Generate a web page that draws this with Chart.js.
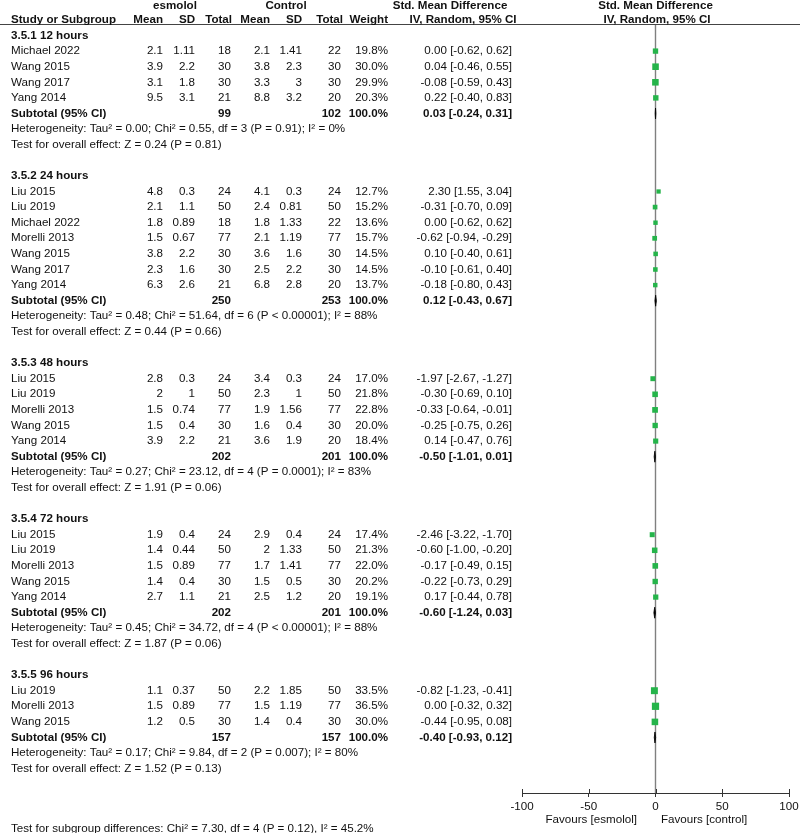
<!DOCTYPE html>
<html>
<head>
<meta charset="utf-8">
<title>Forest plot - esmolol vs control</title>
<script src="https://cdn.jsdelivr.net/npm/chart.js"></script>
<style>
  html, body { margin: 0; padding: 0; background: #fff; }
  canvas { display: block; }
</style>
</head>
<body>
<canvas id="forestChart" width="800" height="833"></canvas>
<script>
// Subgroups
const groupLabels = ['3.5.1 12 hours', '3.5.2 24 hours', '3.5.3 48 hours', '3.5.4 72 hours', '3.5.5 96 hours'];
const groupExpTotal = [99, 250, 202, 202, 157];
const groupCtlTotal = [102, 253, 201, 201, 157];
const groupSmd = [0.03, 0.12, -0.50, -0.60, -0.40];
const groupLow = [-0.24, -0.43, -1.01, -1.24, -0.93];
const groupHigh = [0.31, 0.67, 0.01, 0.03, 0.12];
const groupHet = [
    'Heterogeneity: Tau² = 0.00; Chi² = 0.55, df = 3 (P = 0.91); I² = 0%',
    'Heterogeneity: Tau² = 0.48; Chi² = 51.64, df = 6 (P < 0.00001); I² = 88%',
    'Heterogeneity: Tau² = 0.27; Chi² = 23.12, df = 4 (P = 0.0001); I² = 83%',
    'Heterogeneity: Tau² = 0.45; Chi² = 34.72, df = 4 (P < 0.00001); I² = 88%',
    'Heterogeneity: Tau² = 0.17; Chi² = 9.84, df = 2 (P = 0.007); I² = 80%'
];
const groupEffect = [
    'Test for overall effect: Z = 0.24 (P = 0.81)',
    'Test for overall effect: Z = 0.44 (P = 0.66)',
    'Test for overall effect: Z = 1.91 (P = 0.06)',
    'Test for overall effect: Z = 1.87 (P = 0.06)',
    'Test for overall effect: Z = 1.52 (P = 0.13)'
];

// Studies
const studyGroup = [0, 0, 0, 0, 1, 1, 1, 1, 1, 1, 1, 2, 2, 2, 2, 2, 3, 3, 3, 3, 3, 4, 4, 4];
const studyNames = [
    'Michael 2022', 'Wang 2015', 'Wang 2017', 'Yang 2014',
    'Liu 2015', 'Liu 2019', 'Michael 2022', 'Morelli 2013', 'Wang 2015', 'Wang 2017', 'Yang 2014',
    'Liu 2015', 'Liu 2019', 'Morelli 2013', 'Wang 2015', 'Yang 2014',
    'Liu 2015', 'Liu 2019', 'Morelli 2013', 'Wang 2015', 'Yang 2014',
    'Liu 2019', 'Morelli 2013', 'Wang 2015'
];
const expMean = [2.1, 3.9, 3.1, 9.5, 4.8, 2.1, 1.8, 1.5, 3.8, 2.3, 6.3, 2.8, 2, 1.5, 1.5, 3.9, 1.9, 1.4, 1.5, 1.4, 2.7, 1.1, 1.5, 1.2];
const expSD = [1.11, 2.2, 1.8, 3.1, 0.3, 1.1, 0.89, 0.67, 2.2, 1.6, 2.6, 0.3, 1, 0.74, 0.4, 2.2, 0.4, 0.44, 0.89, 0.4, 1.1, 0.37, 0.89, 0.5];
const expTotal = [18, 30, 30, 21, 24, 50, 18, 77, 30, 30, 21, 24, 50, 77, 30, 21, 24, 50, 77, 30, 21, 50, 77, 30];
const ctlMean = [2.1, 3.8, 3.3, 8.8, 4.1, 2.4, 1.8, 2.1, 3.6, 2.5, 6.8, 3.4, 2.3, 1.9, 1.6, 3.6, 2.9, 2, 1.7, 1.5, 2.5, 2.2, 1.5, 1.4];
const ctlSD = [1.41, 2.3, 3, 3.2, 0.3, 0.81, 1.33, 1.19, 1.6, 2.2, 2.8, 0.3, 1, 1.56, 0.4, 1.9, 0.4, 1.33, 1.41, 0.5, 1.2, 1.85, 1.19, 0.4];
const ctlTotal = [22, 30, 30, 20, 24, 50, 22, 77, 30, 30, 20, 24, 50, 77, 30, 20, 24, 50, 77, 30, 20, 50, 77, 30];
const weight = [19.8, 30.0, 29.9, 20.3, 12.7, 15.2, 13.6, 15.7, 14.5, 14.5, 13.7, 17.0, 21.8, 22.8, 20.0, 18.4, 17.4, 21.3, 22.0, 20.2, 19.1, 33.5, 36.5, 30.0];
const smd = [0.00, 0.04, -0.08, 0.22, 2.30, -0.31, 0.00, -0.62, 0.10, -0.10, -0.18, -1.97, -0.30, -0.33, -0.25, 0.14, -2.46, -0.60, -0.17, -0.22, 0.17, -0.82, 0.00, -0.44];
const ciLow = [-0.62, -0.46, -0.59, -0.40, 1.55, -0.70, -0.62, -0.94, -0.40, -0.61, -0.80, -2.67, -0.69, -0.64, -0.75, -0.47, -3.22, -1.00, -0.49, -0.73, -0.44, -1.23, -0.32, -0.95];
const ciHigh = [0.62, 0.55, 0.43, 0.83, 3.04, 0.09, 0.62, -0.29, 0.61, 0.40, 0.43, -1.27, 0.10, -0.01, 0.26, 0.76, -1.70, -0.20, 0.15, 0.29, 0.78, -0.41, 0.32, 0.08];

const xTicks = [-100, -50, 0, 50, 100];
const subgroupTest = 'Test for subgroup differences: Chi² = 7.30, df = 4 (P = 0.12), I² = 45.2%';

// Row layout: heading, studies, subtotal, heterogeneity, overall effect, blank
const studyRow = [];
const groupRow = [];
const subtotalRow = [];
let row = 0;
groupLabels.forEach((g, gi) => {
    groupRow.push(row++);
    studyGroup.forEach((sg, i) => {
        if (sg === gi) studyRow[i] = row++;
    });
    subtotalRow.push(row);
    row += 4;
});

const FONT = '"Liberation Sans", Arial, sans-serif';
const FONT_SIZE = 11.6;
const TEXT_COLOR = '#111';
const GREEN = '#25b44a';

function fmt(v) {
    return v.toFixed(2);
}

function ciText(est, lo, hi) {
    return `${fmt(est)} [${fmt(lo)}, ${fmt(hi)}]`;
}

function drawText(ctx, str, x, y, align, bold) {
    ctx.font = (bold ? 'bold ' : '') + FONT_SIZE + 'px ' + FONT;
    ctx.textAlign = align;
    ctx.fillText(str, x, y);
}

// Table columns (right edges unless noted)
const COL = { study: 11, eMean: 163, eSD: 195, eTot: 231, cMean: 270, cSD: 302, cTot: 341, wt: 388, ci: 512 };

const forestPlugin = {
    id: 'forest',
    beforeDatasetsDraw(chart) {
        const { ctx, chartArea, scales: { x, y } } = chart;
        ctx.save();
        // line of no effect
        const x0 = x.getPixelForValue(0);
        ctx.strokeStyle = '#808080';
        ctx.lineWidth = 1.4;
        ctx.beginPath();
        ctx.moveTo(x0, chartArea.top);
        ctx.lineTo(x0, chartArea.bottom);
        ctx.stroke();
        // confidence intervals
        ctx.strokeStyle = '#000';
        ctx.lineWidth = 1;
        studyNames.forEach((n, i) => {
            const py = y.getPixelForValue(studyRow[i]);
            ctx.beginPath();
            ctx.moveTo(x.getPixelForValue(ciLow[i]), py);
            ctx.lineTo(x.getPixelForValue(ciHigh[i]), py);
            ctx.stroke();
        });
        // small upward tick marks on the axis
        ctx.strokeStyle = '#333';
        xTicks.forEach(v => {
            const px = Math.round(x.getPixelForValue(v)) + 0.5;
            ctx.beginPath();
            ctx.moveTo(px, chartArea.bottom - 4);
            ctx.lineTo(px, chartArea.bottom);
            ctx.stroke();
        });
        ctx.restore();
    },
    afterDatasetsDraw(chart) {
        const { ctx, scales: { x, y } } = chart;
        ctx.save();
        ctx.fillStyle = '#000';
        ctx.strokeStyle = '#000';
        ctx.lineWidth = 0.8;
        groupLabels.forEach((g, gi) => {
            const py = y.getPixelForValue(subtotalRow[gi]);
            const xl = x.getPixelForValue(groupLow[gi]);
            const xm = x.getPixelForValue(groupSmd[gi]);
            const xr = x.getPixelForValue(groupHigh[gi]);
            ctx.beginPath();
            ctx.moveTo(xl, py);
            ctx.lineTo(xm, py - 5.5);
            ctx.lineTo(xr, py);
            ctx.lineTo(xm, py + 5.5);
            ctx.closePath();
            ctx.fill();
            ctx.stroke();
        });
        ctx.restore();
    },
    afterDraw(chart) {
        const { ctx, chartArea, scales: { x, y } } = chart;
        const x0 = x.getPixelForValue(0);
        ctx.save();

        // header rule
        ctx.strokeStyle = '#444';
        ctx.lineWidth = 1.2;
        ctx.beginPath();
        ctx.moveTo(0, chartArea.top + 0.5);
        ctx.lineTo(chart.width, chartArea.top + 0.5);
        ctx.stroke();

        ctx.fillStyle = TEXT_COLOR;
        ctx.textBaseline = 'middle';

        // headers
        drawText(ctx, 'esmolol', 175, 6, 'center', true);
        drawText(ctx, 'Control', 286, 6, 'center', true);
        drawText(ctx, 'Std. Mean Difference', 450, 6, 'center', true);
        drawText(ctx, 'Std. Mean Difference', x0, 6, 'center', true);
        drawText(ctx, 'Study or Subgroup', COL.study, 20, 'left', true);
        drawText(ctx, 'Mean', COL.eMean, 20, 'right', true);
        drawText(ctx, 'SD', COL.eSD, 20, 'right', true);
        drawText(ctx, 'Total', COL.eTot + 1, 20, 'right', true);
        drawText(ctx, 'Mean', COL.cMean, 20, 'right', true);
        drawText(ctx, 'SD', COL.cSD, 20, 'right', true);
        drawText(ctx, 'Total', COL.cTot + 2, 20, 'right', true);
        drawText(ctx, 'Weight', COL.wt, 20, 'right', true);
        drawText(ctx, 'IV, Random, 95% CI', 463, 20, 'center', true);
        drawText(ctx, 'IV, Random, 95% CI', x0 + 1.5, 20, 'center', true);

        groupLabels.forEach((g, gi) => {
            drawText(ctx, g, COL.study, y.getPixelForValue(groupRow[gi]), 'left', true);
            const ps = y.getPixelForValue(subtotalRow[gi]);
            drawText(ctx, 'Subtotal (95% CI)', COL.study, ps, 'left', true);
            drawText(ctx, String(groupExpTotal[gi]), COL.eTot, ps, 'right', true);
            drawText(ctx, String(groupCtlTotal[gi]), COL.cTot, ps, 'right', true);
            drawText(ctx, '100.0%', COL.wt, ps, 'right', true);
            drawText(ctx, ciText(groupSmd[gi], groupLow[gi], groupHigh[gi]), COL.ci, ps, 'right', true);
            drawText(ctx, groupHet[gi], COL.study, y.getPixelForValue(subtotalRow[gi] + 1), 'left', false);
            drawText(ctx, groupEffect[gi], COL.study, y.getPixelForValue(subtotalRow[gi] + 2), 'left', false);
        });

        studyNames.forEach((n, i) => {
            const py = y.getPixelForValue(studyRow[i]);
            drawText(ctx, n, COL.study, py, 'left', false);
            drawText(ctx, String(expMean[i]), COL.eMean, py, 'right', false);
            drawText(ctx, String(expSD[i]), COL.eSD, py, 'right', false);
            drawText(ctx, String(expTotal[i]), COL.eTot, py, 'right', false);
            drawText(ctx, String(ctlMean[i]), COL.cMean, py, 'right', false);
            drawText(ctx, String(ctlSD[i]), COL.cSD, py, 'right', false);
            drawText(ctx, String(ctlTotal[i]), COL.cTot, py, 'right', false);
            drawText(ctx, weight[i].toFixed(1) + '%', COL.wt, py, 'right', false);
            drawText(ctx, ciText(smd[i], ciLow[i], ciHigh[i]), COL.ci, py, 'right', false);
        });

        // favours labels under the axis
        drawText(ctx, 'Favours [esmolol]', x0 - 18.5, 820, 'right', false);
        drawText(ctx, 'Favours [control]', x0 + 5.5, 820, 'left', false);

        drawText(ctx, subgroupTest, COL.study, chart.height - 4, 'left', false);
        ctx.restore();
    }
};

Chart.defaults.font.family = FONT;

const forestChart = new Chart(document.getElementById('forestChart'), {
    type: 'scatter',
    data: {
        datasets: [{
            data: studyNames.map((n, i) => ({ x: smd[i], y: studyRow[i] })),
            pointStyle: 'rect',
            pointRadius: ctx => 1.2 * Math.sqrt(weight[ctx.dataIndex]) / Math.SQRT2,
            backgroundColor: GREEN,
            borderWidth: 0
        }]
    },
    options: {
        responsive: false,
        animation: false,
        events: [],
        layout: {
            padding: { left: 522, right: 11, top: 24, bottom: 15 }
        },
        plugins: {
            legend: { display: false },
            tooltip: { enabled: false }
        },
        scales: {
            x: {
                type: 'linear',
                min: -100,
                max: 100,
                afterBuildTicks: scale => {
                    scale.ticks = xTicks.map(v => ({ value: v }));
                },
                afterFit: scale => {
                    scale.height = 25;
                    scale.paddingLeft = 0;
                    scale.paddingRight = 0;
                },
                grid: {
                    drawOnChartArea: false,
                    tickLength: 4,
                    color: '#333'
                },
                border: { color: '#333', width: 1 },
                ticks: {
                    autoSkip: false,
                    maxRotation: 0,
                    padding: 3,
                    color: TEXT_COLOR,
                    font: { size: FONT_SIZE },
                    callback: v => String(v)
                }
            },
            y: {
                type: 'linear',
                display: false,
                reverse: true,
                min: -0.737,
                max: 48.558
            }
        }
    },
    plugins: [forestPlugin]
});
</script>
</body>
</html>
